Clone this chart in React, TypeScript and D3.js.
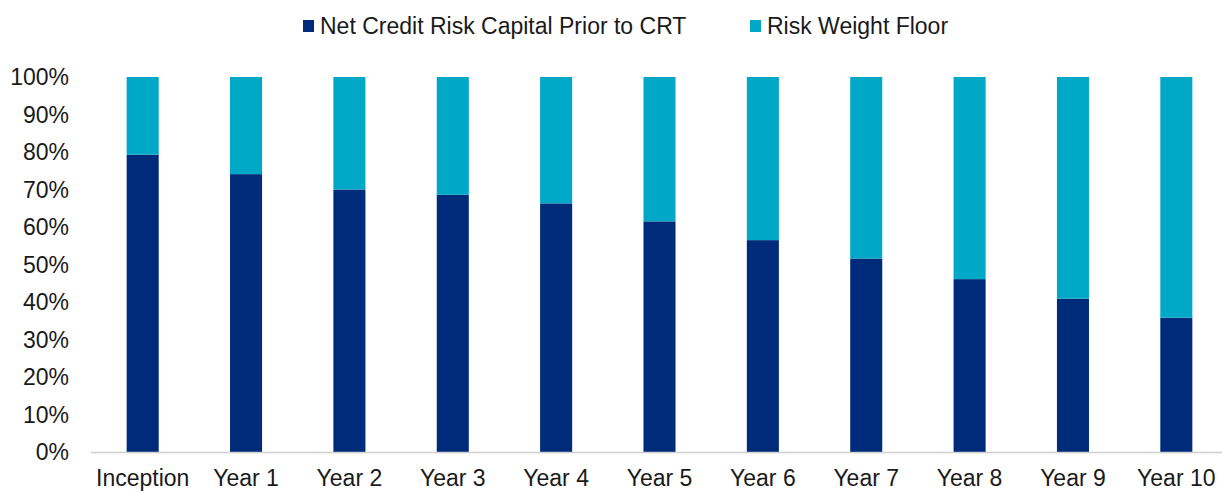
import React from "react";
import * as d3 from "d3";

const categories = ["Inception", "Year 1", "Year 2", "Year 3", "Year 4", "Year 5", "Year 6", "Year 7", "Year 8", "Year 9", "Year 10"];
const netCreditRisk = [79.3, 74.1, 70.0, 68.6, 66.3, 61.5, 56.5, 51.6, 46.1, 40.9, 35.8];
const riskWeightFloor = [20.7, 25.9, 30.0, 31.4, 33.7, 38.5, 43.5, 48.4, 53.9, 59.1, 64.2];
const yTicks = [0, 10, 20, 30, 40, 50, 60, 70, 80, 90, 100];
const seriesNames = ["Net Credit Risk Capital Prior to CRT", "Risk Weight Floor"];

const W = 1222;
const H = 491;
const DARK = "#002B7A";
const LIGHT = "#00A8C8";
const TEXT = "#1a1a1a";
const FONT = "'Liberation Sans', Arial, sans-serif";

export default function App() {
  const x = d3.scaleBand<string>().domain(categories).range([91, 1228]).paddingInner(0.69).paddingOuter(0.345);
  const y = d3.scaleLinear().domain([0, 100]).range([452, 77]);

  const rows = categories.map((c, i) => ({ cat: c, net: netCreditRisk[i], floor: riskWeightFloor[i] }));
  const stack = d3.stack<any>().keys(["net", "floor"])(rows as any);
  const colors = [DARK, LIGHT];

  return (
    <svg width={W} height={H} style={{ position: "absolute", left: 0, top: 0, background: "#fff" }} fontFamily={FONT}>
      {/* legend */}
      <rect x={303} y={20} width={11} height={12} fill={DARK} />
      <text x={320} y={34} fontSize={23} fill={TEXT}>{seriesNames[0]}</text>
      <rect x={750} y={20} width={11} height={12} fill={LIGHT} />
      <text x={767} y={34} fontSize={23} fill={TEXT}>{seriesNames[1]}</text>

      {/* y axis labels */}
      {yTicks.map((t) => (
        <text key={t} x={69} y={y(t) + 8} fontSize={23} textAnchor="end" fill={TEXT}>
          {d3.format(".0%")(t / 100)}
        </text>
      ))}

      {/* bars */}
      {stack.map((layer, li) => (
        <g key={li} fill={colors[li]}>
          {layer.map((d: any, i: number) => (
            <rect
              key={i}
              x={x(categories[i])}
              width={x.bandwidth()}
              y={y(d[1])}
              height={y(d[0]) - y(d[1])}
            />
          ))}
        </g>
      ))}

      {/* x axis line */}
      <line x1={91} x2={W} y1={452.5} y2={452.5} stroke="#cfcfcf" strokeWidth={1.5} />

      {/* x labels */}
      {categories.map((c) => (
        <text key={c} x={(x(c) as number) + x.bandwidth() / 2} y={486} fontSize={23} textAnchor="middle" fill={TEXT}>
          {c}
        </text>
      ))}
    </svg>
  );
}
